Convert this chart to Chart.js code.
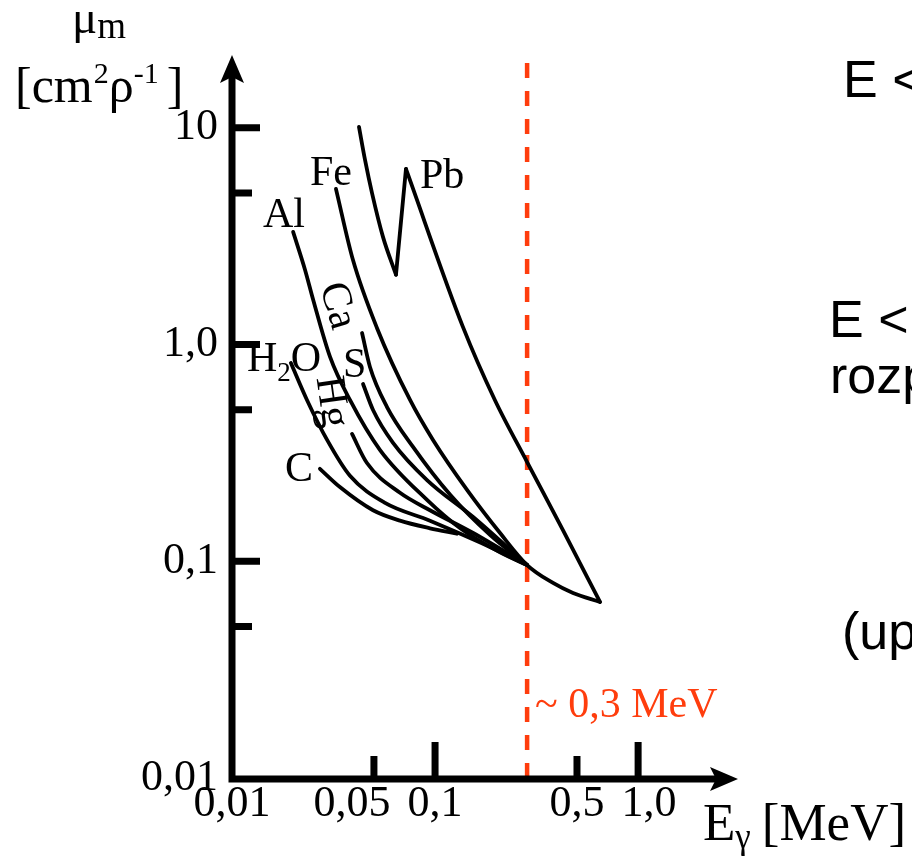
<!DOCTYPE html>
<html>
<head>
<meta charset="utf-8">
<title>μm</title>
<script src="https://cdn.jsdelivr.net/npm/chart.js@4.4.1/dist/chart.umd.min.js"></script>
<style>
    html, body { margin: 0; padding: 0; background: #fff; }
    canvas { display: block; }
</style>
</head>
<body>
<canvas id="chart" width="912" height="858"></canvas>
<script>
/**
 * Ticks
 */
const energyTicks = [0.01, 0.05, 0.1, 0.5, 1];
const energyLabels = ['0,01', '0,05\u2003', '0,1', '0,5', '\u20021,0'];
const muTicks = [0.01, 0.1, 1, 10];
const muLabels = ['0,01', '0,1', '1,0', '10'];
const energyLongMarks = [0.1, 1];
const energyShortMarks = [0.05, 0.5];
const muLongMarks = [10, 1, 0.1];
const muShortMarks = [5, 0.5, 0.05];

/**
 * Curves (E in MeV, mu in cm2/g)
 */
const pbLowE = [0.0422, 0.0452, 0.0489, 0.0554, 0.0642];
const pbLowMu = [10.1, 7.11, 5.01, 3.14, 2.10];
const pbEdgeE = [0.0642, 0.0719];
const pbEdgeMu = [2.10, 6.46];
const pbHighE = [0.0719, 0.137, 0.197, 0.284, 0.427, 0.649];
const pbHighMu = [6.46, 1.21, 0.555, 0.287, 0.139, 0.0649];

const feE = [0.0325, 0.0394, 0.0518, 0.0753, 0.0977, 0.144, 0.209, 0.284, 0.381, 0.478, 0.649];
const feMu = [5.23, 2.46, 1.19, 0.555, 0.363, 0.213, 0.135, 0.0961, 0.0794, 0.0714, 0.0649];

const caE = [0.0437, 0.0478, 0.0580, 0.0779, 0.119, 0.187, 0.284];
const caMu = [1.13, 0.788, 0.515, 0.337, 0.202, 0.132, 0.0961];

const alE = [0.0200, 0.0229, 0.0251, 0.0304, 0.0381, 0.0536, 0.0913, 0.133, 0.209, 0.284];
const alMu = [3.31, 2.21, 1.61, 0.877, 0.555, 0.326, 0.192, 0.142, 0.110, 0.0961];

const sE = [0.0442, 0.0495, 0.0621, 0.0913, 0.154, 0.284];
const sMu = [0.658, 0.499, 0.352, 0.237, 0.160, 0.0961];

const hgE = [0.0390, 0.0462, 0.0672, 0.0944, 0.154, 0.284];
const hgMu = [0.387, 0.284, 0.207, 0.172, 0.135, 0.0961];

const h2oE = [0.0195, 0.0234, 0.0294, 0.0381, 0.0567, 0.0944, 0.167, 0.284];
const h2oMu = [0.822, 0.555, 0.363, 0.248, 0.186, 0.154, 0.122, 0.0961];

const cE = [0.0271, 0.0340, 0.0495, 0.0672, 0.0944, 0.128];
const cMu = [0.267, 0.220, 0.172, 0.154, 0.142, 0.134];

/**
 * Limit line ~0,3 MeV
 */
const edgeE = [0.284, 0.284];
const edgeMu = [0.01, 20];

const ink = '#000';
const red = '#ff3d0d';
const serif = '"Liberation Serif", "Times New Roman", serif';
const sans = '"Liberation Sans", Arial, sans-serif';

function points(e, mu) {
    return e.map((v, i) => ({ x: v, y: mu[i] }));
}

function curve(e, mu) {
    return {
        data: points(e, mu),
        borderColor: ink,
        borderWidth: 3.8,
        borderCapStyle: 'round',
        pointRadius: 0,
        fill: false,
        cubicInterpolationMode: 'monotone'
    };
}

/**
 * Axes, arrows, marks and texts
 */
const decor = {
    id: 'decor',
    afterDraw(chart) {
        const { ctx, chartArea: a } = chart;
        const sx = chart.scales.x;
        const sy = chart.scales.y;
        const ax = a.left;
        const ay = a.bottom + 1;

        ctx.save();
        ctx.fillStyle = ink;
        ctx.strokeStyle = ink;
        ctx.lineWidth = 7;
        ctx.lineCap = 'butt';

        ctx.beginPath();
        ctx.moveTo(ax, ay + 3.5);
        ctx.lineTo(ax, a.top + 18);
        ctx.moveTo(ax - 3.5, ay);
        ctx.lineTo(a.right - 18, ay);
        energyLongMarks.forEach(v => {
            const p = sx.getPixelForValue(v);
            ctx.moveTo(p, ay);
            ctx.lineTo(p, ay - 37);
        });
        energyShortMarks.forEach(v => {
            const p = sx.getPixelForValue(v);
            ctx.moveTo(p, ay);
            ctx.lineTo(p, ay - 23);
        });
        muLongMarks.forEach(v => {
            const p = sy.getPixelForValue(v);
            ctx.moveTo(ax, p);
            ctx.lineTo(ax + 28, p);
        });
        muShortMarks.forEach(v => {
            const p = sy.getPixelForValue(v);
            ctx.moveTo(ax, p);
            ctx.lineTo(ax + 20, p);
        });
        ctx.stroke();

        ctx.beginPath();
        ctx.moveTo(ax, a.top - 3);
        ctx.lineTo(ax + 12, a.top + 25);
        ctx.lineTo(ax, a.top + 19);
        ctx.lineTo(ax - 12, a.top + 25);
        ctx.closePath();
        ctx.moveTo(a.right + 3, ay);
        ctx.lineTo(a.right - 25, ay + 12);
        ctx.lineTo(a.right - 19, ay);
        ctx.lineTo(a.right - 25, ay - 12);
        ctx.closePath();
        ctx.fill();

        ctx.textAlign = 'left';
        ctx.textBaseline = 'alphabetic';
        const write = (s, px, py, size, family) => {
            ctx.font = size + 'px ' + (family || serif);
            ctx.fillText(s, px, py);
            return px + ctx.measureText(s).width;
        };
        const turned = (s, px, py, deg, size) => {
            ctx.save();
            ctx.translate(px, py);
            ctx.rotate(deg * Math.PI / 180);
            ctx.textAlign = 'center';
            ctx.textBaseline = 'middle';
            ctx.font = size + 'px ' + serif;
            ctx.fillText(s, 0, 0);
            ctx.restore();
        };

        // curve names
        write('Pb', 420, 188, 42);
        write('Fe', 310, 185, 42);
        write('Al', 263, 227, 42);
        write('S', 343, 377, 42);
        write('C', 285, 481, 42);
        let cx = write('H', 247, 371, 42);
        cx = write('2', cx, 381, 27);
        write('O', cx, 371, 42);
        turned('Ca', 337, 306, 74, 42);
        turned('Hg', 331, 402, 82, 42);

        // axis titles
        cx = write('μ', 72, 33, 47);
        write('m', cx, 38, 37);
        cx = write('[cm', 15, 102, 50);
        cx = write('2', cx + 1, 83, 30);
        cx = write('ρ', cx, 102, 50);
        cx = write('-1', cx, 83, 30);
        write(']', cx + 8, 102, 50);

        cx = write('E', 703, 840, 53);
        cx = write('γ', cx, 848, 35);
        write('[MeV]', cx + 11, 840, 53);

        ctx.fillStyle = red;
        write('~ 0,3 MeV', 535, 717, 42);

        // slide text on the right
        ctx.fillStyle = ink;
        write('E <', 843, 97, 52, sans);
        write('E <', 829, 337, 52, sans);
        write('rozp', 830, 393, 52, sans);
        write('(up', 842, 649, 52, sans);

        ctx.restore();
    }
};

new Chart(document.getElementById('chart'), {
    type: 'line',
    data: {
        datasets: [
            curve(pbLowE, pbLowMu),
            curve(pbEdgeE, pbEdgeMu),
            curve(pbHighE, pbHighMu),
            curve(feE, feMu),
            curve(caE, caMu),
            curve(alE, alMu),
            curve(sE, sMu),
            curve(hgE, hgMu),
            curve(h2oE, h2oMu),
            curve(cE, cMu),
            {
                data: points(edgeE, edgeMu),
                borderColor: red,
                borderWidth: 4.5,
                borderDash: [15, 13],
                pointRadius: 0,
                fill: false
            }
        ]
    },
    options: {
        responsive: false,
        animation: false,
        layout: { padding: { top: 58, right: 177, bottom: 0, left: 0 } },
        plugins: {
            legend: { display: false },
            tooltip: { enabled: false }
        },
        scales: {
            x: {
                type: 'logarithmic',
                position: 'bottom',
                min: 0.01,
                max: 3,
                afterBuildTicks: s => { s.ticks = energyTicks.map(v => ({ value: v })); },
                afterFit: s => { s.height = 80; },
                grid: { display: false, drawTicks: false },
                border: { display: false },
                ticks: {
                    autoSkip: false,
                    maxRotation: 0,
                    padding: 0,
                    color: ink,
                    font: { family: serif, size: 44 },
                    callback: (v, i) => energyLabels[i]
                }
            },
            y: {
                type: 'logarithmic',
                position: 'left',
                min: 0.01,
                max: 21,
                afterBuildTicks: s => { s.ticks = muTicks.map(v => ({ value: v })); },
                afterFit: s => { s.width = 232; },
                grid: { display: false, drawTicks: false },
                border: { display: false },
                ticks: {
                    autoSkip: false,
                    padding: 14,
                    color: ink,
                    font: { family: serif, size: 44 },
                    callback: (v, i) => muLabels[i]
                }
            }
        }
    },
    plugins: [decor]
});
</script>
</body>
</html>
